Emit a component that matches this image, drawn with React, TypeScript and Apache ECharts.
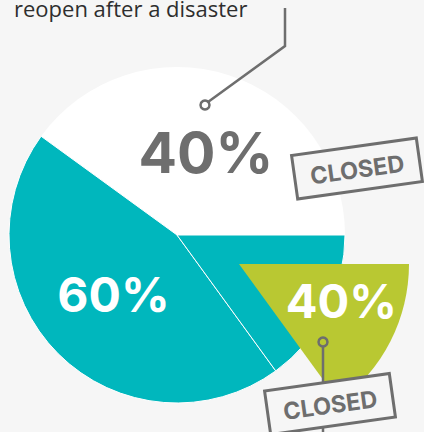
import React, { useEffect, useRef } from "react";
import * as echarts from "echarts";

const titleText = "reopen after a disaster";
const sliceNames = ["Reopened", "Closed", "Closed (part)"];
const sliceShares = [40, 45, 15];
const sliceLabels = ["40%", "60%", ""];
const highlightNames = ["Never reopen", "rest"];
const highlightShares = [15, 85];
const highlightLabel = "40%";
const stampText = "CLOSED";

const BG = "#f6f6f6";
const TEAL = "#00b7bd";
const GREEN = "#b9c832";
const GRAY = "#6e6e6e";
const FONT = "Inter";

function stamp(cx: number, cy: number, deg: number) {
  return {
    type: "group",
    x: cx,
    y: cy,
    rotation: (deg * Math.PI) / 180,
    z: 20,
    children: [
      {
        type: "rect",
        z: 20,
        shape: { x: -63, y: -22, width: 126, height: 44 },
        style: { fill: BG, stroke: GRAY, lineWidth: 3 },
      },
      {
        type: "text",
        z: 21,
        x: 0,
        y: 1,
        style: {
          text: stampText,
          fill: GRAY,
          font: `700 23.5px ${FONT}`,
          align: "center",
          verticalAlign: "middle",
        },
      },
    ],
  };
}

export default function App() {
  const ref = useRef<HTMLDivElement>(null);
  useEffect(() => {
    if (!ref.current) return;
    const chart = echarts.init(ref.current, undefined, { renderer: "svg" });
    const sliceColors = ["#ffffff", TEAL, TEAL];
    const labelColors = [GRAY, "#ffffff", "#ffffff"];
    const labelSizes = [57, 48, 0];
    chart.setOption({
      animation: false,
      backgroundColor: BG,
      series: [
        {
          type: "pie",
          silent: true,
          center: [177, 235],
          radius: 168,
          startAngle: 0,
          clockwise: false,
          z: 2,
          labelLine: { show: false },
          data: sliceNames.map((n, i) => ({
            name: n,
            value: sliceShares[i],
            itemStyle: {
              color: sliceColors[i],
              borderColor: "#ffffff",
              borderWidth: i === 0 ? 0 : 1,
            },
            label: {
              show: sliceLabels[i] !== "",
              position: "inside",
              formatter: sliceLabels[i],
              color: labelColors[i],
              fontFamily: FONT,
              fontWeight: 700,
              fontSize: labelSizes[i] || 12,
              offset: i === 1 ? [-2, -2] : [2, 0],
            },
          })),
        },
        {
          type: "pie",
          silent: true,
          center: [239, 264],
          radius: 170,
          startAngle: 0,
          clockwise: true,
          z: 3,
          labelLine: { show: false },
          data: highlightNames.map((n, i) => ({
            name: n,
            value: highlightShares[i],
            itemStyle: { color: i === 0 ? GREEN : "rgba(0,0,0,0)" },
            label: {
              show: i === 0,
              position: "inside",
              formatter: highlightLabel,
              color: "#ffffff",
              fontFamily: FONT,
              fontWeight: 700,
              fontSize: 47,
              offset: [24, -3],
            },
          })),
        },
      ],
      graphic: [
        {
          type: "text",
          z: 20,
          x: 14,
          y: 8,
          style: {
            text: titleText,
            fill: "#2e2e2e",
            font: `400 22px 'Open Sans'`,
            align: "left",
            verticalAlign: "middle",
          },
        },
        {
          type: "polyline",
          z: 20,
          shape: { points: [[285, 8], [285, 46], [208, 102]] },
          style: { stroke: GRAY, lineWidth: 2.5, fill: null },
        },
        {
          type: "circle",
          z: 21,
          shape: { cx: 205, cy: 105, r: 4.5 },
          style: { stroke: GRAY, lineWidth: 2.5, fill: "rgba(0,0,0,0)" },
        },
        {
          type: "line",
          z: 20,
          shape: { x1: 323, y1: 347, x2: 323, y2: 440 },
          style: { stroke: GRAY, lineWidth: 2.5 },
        },
        {
          type: "circle",
          z: 21,
          shape: { cx: 323, cy: 342, r: 4.5 },
          style: { stroke: GRAY, lineWidth: 2.5, fill: "rgba(0,0,0,0)" },
        },
        stamp(357, 168.5, 8),
        stamp(330, 404, 8),
      ],
    });
    return () => chart.dispose();
  }, []);
  return (
    <div
      ref={ref}
      style={{ position: "absolute", left: 0, top: 0, width: 424, height: 432 }}
    />
  );
}
